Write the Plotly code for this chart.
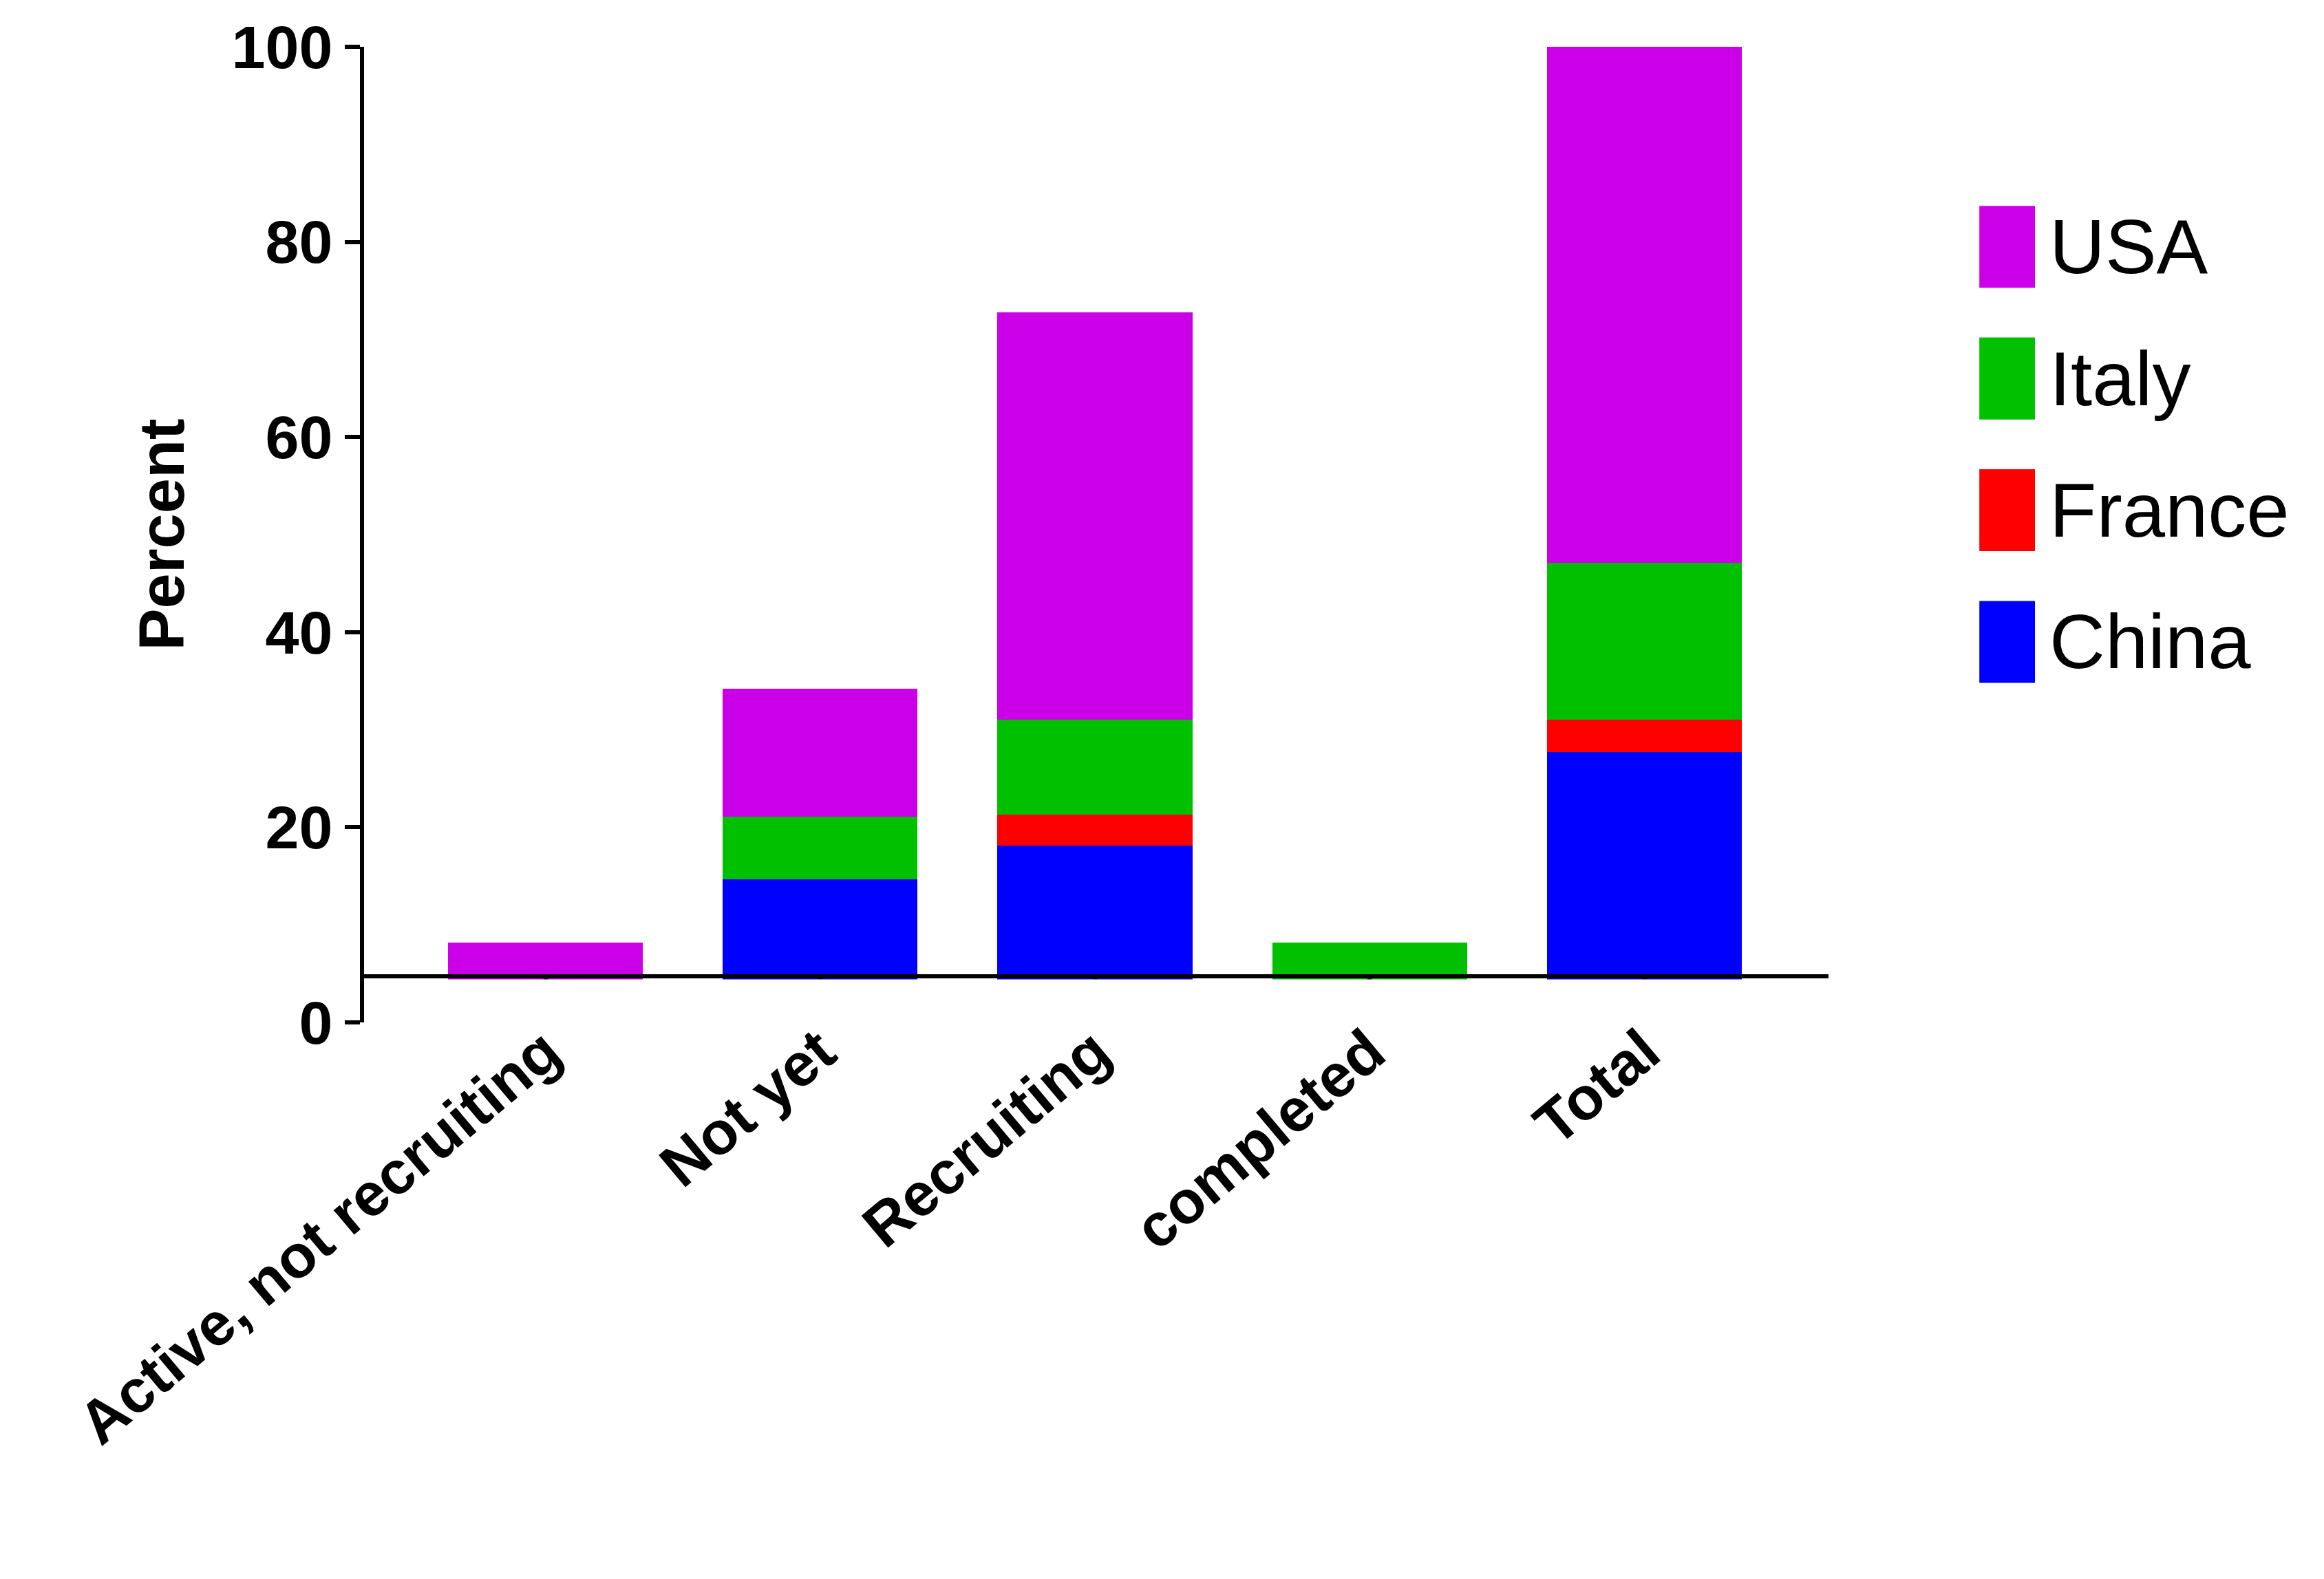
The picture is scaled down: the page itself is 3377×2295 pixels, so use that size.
import plotly.graph_objects as go

categories = ["Active, not recruiting", "Not yet", "Recruiting", "completed", "Total"]
china = [0, 14.7, 18.1, 0, 27.7]
france = [0, 0, 3.2, 0, 3.3]
italy = [0, 6.4, 9.7, 8.2, 16.1]
usa = [8.2, 13.1, 41.8, 0, 52.9]

series = [("China", china, "#0000ff"), ("France", france, "#ff0000"),
          ("Italy", italy, "#00c000"), ("USA", usa, "#cc00e8")]

FONT = "Liberation Sans, Arial, sans-serif"
axis_y = 4.7  # x axis line sits above zero (Prism style)

fig = go.Figure()
for name, vals, col in series:
    fig.add_trace(go.Bar(x=categories, y=vals, name=name, marker_color=col,
                         marker_line_width=0))

# hide bar portion below the offset x axis
fig.add_shape(type="rect", xref="paper", yref="y", x0=0.004, x1=1, y0=-1, y1=axis_y - 0.3,
              fillcolor="white", line_width=0, layer="above")

# custom legend
for i, (name, vals, col) in enumerate(reversed(series)):
    yc = 0.795 - i * 0.135
    fig.add_shape(type="rect", xref="paper", yref="paper", x0=1.103, x1=1.141,
                  y0=yc - 0.042, y1=yc + 0.042, fillcolor=col, line_width=0)
    fig.add_annotation(xref="paper", yref="paper", x=1.15, y=yc, text=name,
                       showarrow=False, xanchor="left", yanchor="middle",
                       font=dict(family=FONT, size=112, color="black"))

fig.update_layout(
    barmode="stack", bargap=0.29, showlegend=False,
    width=3377, height=2295, plot_bgcolor="white", paper_bgcolor="white",
    margin=dict(l=521, r=728, t=60, b=817),
    font=dict(family=FONT, color="black"),
)
fig.update_xaxes(range=[-0.66, 4.67], anchor="free", position=axis_y / 100,
                 showline=True, linecolor="black", linewidth=6,
                 ticks="outside", ticklen=20, tickwidth=6, tickcolor="black",
                 tickangle=-40, tickfont=dict(family=FONT, size=88, weight="bold"))
fig.update_yaxes(range=[0, 100], tickvals=[0, 20, 40, 60, 80, 100],
                 showline=True, linecolor="black", linewidth=6, showgrid=False,
                 zeroline=False, ticks="outside", ticklen=22, tickwidth=6,
                 tickcolor="black", tickfont=dict(family=FONT, size=88, weight="bold"),
                 title=dict(text="Percent", standoff=40,
                            font=dict(family=FONT, size=92, weight="bold")))

fig.write_html("out.html")
